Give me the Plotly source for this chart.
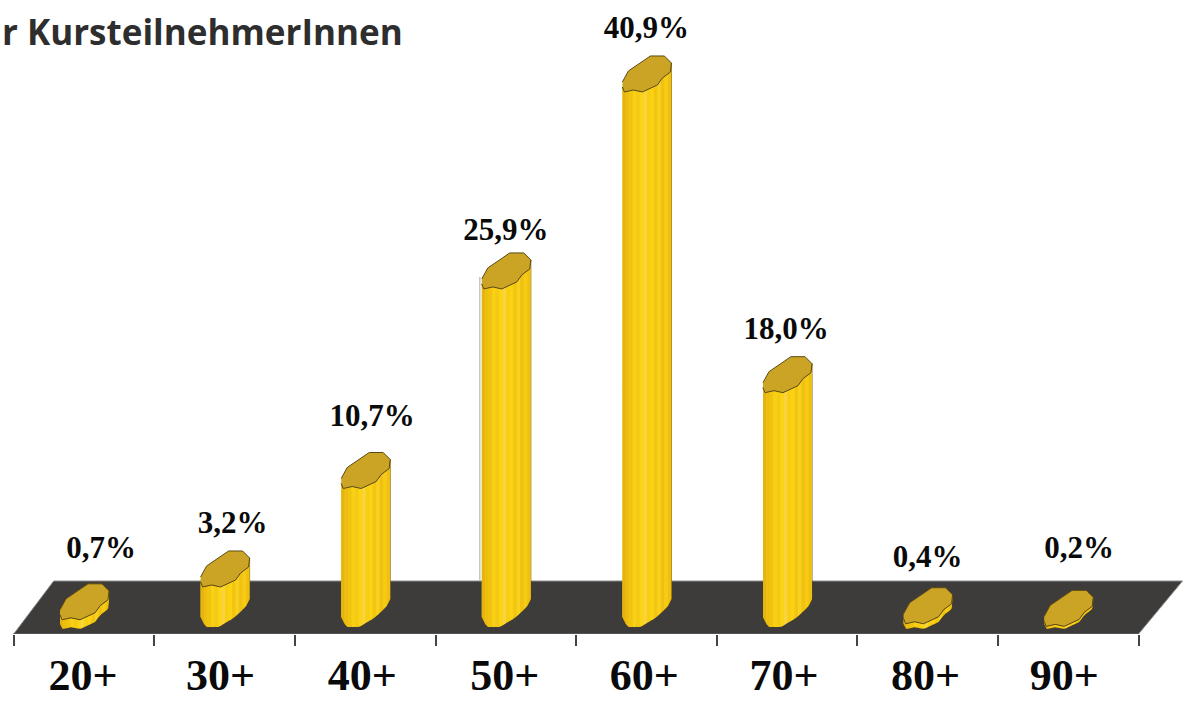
import numpy as np
import plotly.graph_objects as go

categories = ['20+', '30+', '40+', '50+', '60+', '70+', '80+', '90+']
shares = [0.7, 3.2, 10.7, 25.9, 40.9, 18.0, 0.4, 0.2]
share_labels = ['0,7%', '3,2%', '10,7%', '25,9%', '40,9%', '18,0%', '0,4%', '0,2%']

# pixel scale of the axes, the page is a fixed 1185x702
PX_X = 140.6
PX_Y = 13.13
X0 = 84
Y0 = 627
AXIS_Y = 634

# outline of the bar in pixels, relative to the bar centre and its value
cap_upper = [(-24, 8), (-18, 19), (4, 34), (18, 34), (25, 27)]
cap_lower = [(-24, 3), (-22, -2), (-13, 0), (-4, -2), (11, 5), (16, 12), (24, 18), (25, 27)]
foot = [(-24, 10), (-22, 5), (-18, 0), (-6, 0), (9, 9), (21, 20), (25, 28)]

label_dx = [17, 8, 7, 0, 0, -1, 0, 11]
label_dy = [52, 44, 53, 39, 44, 44, 47, 59]
tick_dx = [-1, -4, -3, -1, -2, -3, -2, -4]

cap_fill = '#CBA425'
edge = '#5C4A12'
stripe_colors = ['#E6B40E', '#EDBD10', '#F2C412', '#F8D015', '#F5CA14', '#FBD416', '#F9D440',
                 '#F8CE12', '#FBD314', '#F3C510', '#F8D020', '#F0C012', '#F6CB14', '#EFBF11']

edge_x = np.linspace(-24, 25, len(stripe_colors) + 1)


def profile(px, pts):
    return np.interp(px, [p[0] for p in pts], [p[1] for p in pts])


def bottom_px(px, v):
    # short bars are only a thin slice under the cap
    if v < 1:
        return np.minimum(profile(px, foot), profile(px, cap_lower))
    return profile(px, foot)


fig = go.Figure()

for i, v in enumerate(shares):
    px = np.linspace(-24, 25, 60)
    xs = list(i + px / PX_X)
    top = list(v + profile(px, cap_lower) / PX_Y)
    bot = list(bottom_px(px, v) / PX_Y)
    fig.add_trace(go.Scatter(x=xs + xs[::-1], y=bot + top[::-1], mode='lines', fill='toself',
                             fillcolor=stripe_colors[3], line=dict(color=edge, width=0.8)))

# vertical stripes on the front of the bars, one trace per colour
for k, col in enumerate(stripe_colors):
    sx, sy = [], []
    for i, v in enumerate(shares):
        px = np.linspace(edge_x[k], edge_x[k + 1], 5)
        xs = list(i + px / PX_X)
        top = list(v + profile(px, cap_lower) / PX_Y)
        bot = list(bottom_px(px, v) / PX_Y)
        sx += xs + xs[::-1] + [None]
        sy += bot + top[::-1] + [None]
    fig.add_trace(go.Scatter(x=sx, y=sy, mode='lines', fill='toself', fillcolor=col, line_width=0))

# cap on top of each bar
cap = cap_upper + cap_lower[::-1]
for i, v in enumerate(shares):
    fig.add_trace(go.Scatter(x=[i + p[0] / PX_X for p in cap], y=[v + p[1] / PX_Y for p in cap],
                             mode='lines', fill='toself', fillcolor=cap_fill,
                             line=dict(color=edge, width=1)))

fig.add_trace(go.Scatter(
    x=[i + label_dx[i] / PX_X for i in range(len(shares))],
    y=[v + label_dy[i] / PX_Y for i, v in enumerate(shares)],
    mode='text', text=share_labels, textposition='top center', cliponaxis=False,
    textfont=dict(family='Liberation Serif', size=31, color='#0a0a0a', weight='bold')))

# dark floor
left, right = -0.5, 7.5
low = (Y0 - AXIS_Y) / PX_Y
high = (Y0 - 581) / PX_Y
fig.add_shape(type='path', layer='below', line=dict(color='#8c8a88', width=1), fillcolor='#3E3C3B',
              path=f'M {left} {low} L {left + 40 / PX_X} {high} L {right + 44 / PX_X} {high} L {right} {low} Z')
fig.add_shape(type='line', layer='above', x0=left, x1=right, y0=low, y1=low,
              line=dict(color='#55524f', width=2))
# thin grey line beside the 50+ bar
fig.add_shape(type='line', layer='below', x0=3 - 26 / PX_X, x1=3 - 26 / PX_X, y0=high, y1=shares[3] + 10 / PX_Y,
              line=dict(color='#c4c4c4', width=1.5))

fig.add_annotation(text='r KursteilnehmerInnen', xref='paper', yref='paper', x=0, y=1.0, yshift=-6,
                   xanchor='left', yanchor='top', showarrow=False,
                   font=dict(family='Open Sans', size=35, color='#2e2e2e', weight='bold'))

fig.update_layout(
    width=1185, height=702, margin=dict(l=0, r=0, t=0, b=702 - AXIS_Y),
    paper_bgcolor='white', plot_bgcolor='white', showlegend=False,
    xaxis=dict(range=[-X0 / PX_X, (1185 - X0) / PX_X], tickmode='array', automargin=False,
               tickvals=[i + tick_dx[i] / PX_X for i in range(len(categories))], ticktext=categories,
               ticks='', ticklabelstandoff=11, showgrid=False, zeroline=False, showline=False,
               tickfont=dict(family='Liberation Serif', size=44, color='#0a0a0a', weight='bold'),
               minor=dict(tickmode='array', tickvals=[k - 0.5 for k in range(len(categories) + 1)],
                          ticks='outside', ticklen=11, tickwidth=1.5, tickcolor='#444444', showgrid=False)),
    yaxis=dict(range=[(Y0 - AXIS_Y) / PX_Y, Y0 / PX_Y], visible=False),
)

fig.write_html('out.html', config={'displayModeBar': False},
               post_script="document.body.style.margin='0';")
